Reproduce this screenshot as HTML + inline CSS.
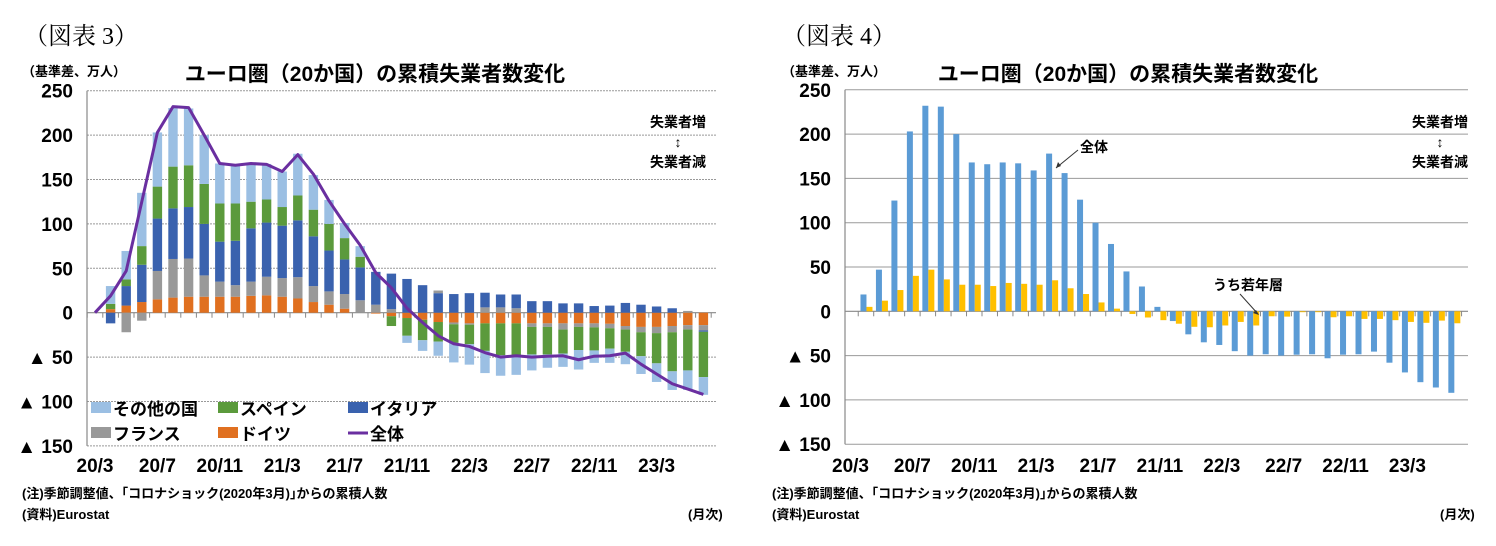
<!DOCTYPE html>
<html><head><meta charset="utf-8"><style>
html,body{margin:0;padding:0;background:#fff;}
svg{display:block;font-family:"Liberation Sans","Noto Sans CJK JP",sans-serif;}
</style></head><body>
<svg id="c" width="1496" height="546" viewBox="0 0 1496 546">
<text x="24" y="44" font-size="24" font-family="'Liberation Serif','Noto Serif CJK SC',serif">（図表 3）</text>
<text x="782" y="44" font-size="24" font-family="'Liberation Serif','Noto Serif CJK SC',serif">（図表 4）</text>
<text x="22" y="76" font-size="13" font-weight="bold">（基準差、万人）</text>
<text x="782" y="76" font-size="13" font-weight="bold">（基準差、万人）</text>
<text x="375" y="81" font-size="21" font-weight="bold" text-anchor="middle">ユーロ圏（20か国）の累積失業者数変化</text>
<text x="1128" y="81" font-size="21" font-weight="bold" text-anchor="middle">ユーロ圏（20か国）の累積失業者数変化</text>
<g font-size="14" font-weight="bold" text-anchor="middle">
<text x="678" y="127">失業者増</text>
<text x="678" y="147" font-size="14" font-weight="normal">↕</text>
<text x="678" y="167">失業者減</text>
<text x="1440" y="127">失業者増</text>
<text x="1440" y="147" font-weight="normal">↕</text>
<text x="1440" y="167">失業者減</text>
</g>
<g font-size="13" font-weight="bold">
<text x="22" y="498">(注)季節調整値、｢コロナショック(2020年3月)｣からの累積人数</text>
<text x="22" y="519">(資料)Eurostat</text>
<text x="688" y="519">(月次)</text>
<text x="772" y="498">(注)季節調整値、｢コロナショック(2020年3月)｣からの累積人数</text>
<text x="772" y="519">(資料)Eurostat</text>
<text x="1440" y="519">(月次)</text>
</g>
</svg>
<script>
const months=["20/3","20/4","20/5","20/6","20/7","20/8","20/9","20/10","20/11","20/12","21/1","21/2","21/3","21/4","21/5","21/6","21/7","21/8","21/9","21/10","21/11","21/12","22/1","22/2","22/3","22/4","22/5","22/6","22/7","22/8","22/9","22/10","22/11","22/12","23/1","23/2","23/3","23/4","23/5","23/6"];
const xTickLabels=["20/3","20/7","20/11","21/3","21/7","21/11","22/3","22/7","22/11","23/3"];
const yTicks=[250,200,150,100,50,0,-50,-100,-150];
const germany=[0,4,8,12,15,17,18,18,18,18,19,19.5,18,16,12,9,4.5,0,-1,-4,-6,-8,-10.5,-11,-12,-12,-12,-12,-12,-12,-12,-12,-12,-12.5,-15,-16,-16,-15,-14,-14];
const france=[0,0,-22,-9,32,43.5,43,24,17,13,16,21,21,24,18,15,16.5,14,9,4,0,0,0,0,0,6,6,5,-4,-4,-7,-4,-4.5,-5,-4,-6,-7,-7,-5,-6];
const france2=[0,0,0,0,0,0,0,0,0,0,0,0,0,0,0,0,0,0,0,0,0,0,3,-2,-1.5,0,0,0,0,0,0,0,0,0,0,0,0,0,2,0];
const italy=[0,-12,22,42,59,57,58,58,45,50,60,61,59,64,56,46,39,37,37,40,38,31,22,21,22,16.5,14.5,15.5,13,13,10.5,10.5,7.5,8,11,9,7,5,0,-1.5];
const spain=[0,6,7.5,21,36,47,47,45,43,42,30,26,21,28,30,30,24,12,0,-11,-20,-23,-22,-21,-22,-31,-36,-36,-31,-31,-27,-26,-26,-23,-25,-27,-34,-44,-46,-51];
const others=[0,20,32,60,61,66,64,55,45,44,43,40,40,47,39,27,17,12,0,0,-8,-12,-16,-22,-23,-25,-23,-22,-18,-15,-15,-22,-14,-16,-14,-20,-21,-21,-22,-20];
const total=[0,19,47,125,203,232,231,200,168,166,168,167,159,178,156,126,100,76,45,28,5,-11,-26,-35,-38,-45,-50,-48.5,-50,-49,-48.5,-53,-49,-48.5,-45.5,-58,-69,-80,-86,-92];
const youth=[0,5,12,24,40,47,36,30,30,28.5,32,31,30,35,26,19.5,10,3,-3,-7,-10,-14,-17.5,-18,-16,-12,-16,-5.6,-6,-1,-1,-6.7,-5.6,-8.6,-8.6,-10,-12,-13,-10.5,-13.5];

const svg=document.getElementById('c');
const NS='http://www.w3.org/2000/svg';
function mk(tag,attrs,parent){const e=document.createElementNS(NS,tag);for(const k in attrs)e.setAttribute(k,attrs[k]);(parent||svg).appendChild(e);return e;}

function axes(P,dotted,prefix){
  const g=mk('g',{});
  
  
  yTicks.forEach(v=>{
    const y=P.y(v);
    if(v!==0){const l=mk('line',{x1:P.x0,x2:P.x1,y1:y,y2:y,stroke:dotted?'#999':'#9a9a9a','stroke-width':dotted?1:1,'stroke-dasharray':dotted?'2,1':'none'},g);
      
      }
    const t=mk('text',{x:P.x0-14,y:y+7,'font-size':19,'font-weight':'bold','text-anchor':'end'},g);
    t.textContent=v<0?'▲ '+(-v):String(v);
    
    
  });
  const ya=mk('line',{x1:P.x0,x2:P.x0,y1:P.y(250),y2:P.y(-150),stroke:'#888','stroke-width':1.2},g);
  
  
  const xa=mk('line',{x1:P.x0,x2:P.x1,y1:P.y(0),y2:P.y(0),stroke:'#888','stroke-width':1.2},g);
  
  
  for(let i=0;i<=months.length;i++){const x=P.x(i)-P.step/2;if(x<P.x0)continue;
    mk('line',{x1:x,x2:x,y1:P.y(0),y2:P.y(0)+5,stroke:'#888'},g);}
  xTickLabels.forEach(lab=>{const i=months.indexOf(lab);
    const t=mk('text',{x:P.x(i),y:472,'font-size':19,'font-weight':'bold','text-anchor':'middle'},g);
    t.textContent=lab;
    
    });
}

// LEFT chart
const L={x0:87,x1:716,step:15.6,x:i=>95+15.6*i,y:v=>312.7-v*0.888};
axes(L,true,'left');
const series=[["germany",germany,"#E07020"],["france",france,"#999999"],["italy",italy,"#3A62AE"],["france-extra",france2,"#999999"],["spain",spain,"#5B9A3C"],["others",others,"#9BBFE3"]];
const pos=months.map(()=>0),neg=months.map(()=>0);
series.forEach(([name,arr,col])=>{
  arr.forEach((v,i)=>{ if(i===0||v===0)return;
    let y0,y1;
    if(v>0){y0=pos[i];y1=pos[i]+v;pos[i]=y1;}else{y0=neg[i];y1=neg[i]+v;neg[i]=y1;}
    const r=mk('rect',{x:L.x(i)-4.7,width:9.4,y:L.y(Math.max(y0,y1)),height:Math.abs(L.y(y0)-L.y(y1)),fill:col});
    
    
  });
});
const pl=mk('polyline',{points:total.map((v,i)=>L.x(i)+','+L.y(v)).join(' '),fill:'none',stroke:'#6A2FA0','stroke-width':3,'stroke-linejoin':'round'});


// legend
const leg=[["その他の国","#9BBFE3",91,408,'r'],["スペイン","#5B9A3C",218,408,'r'],["イタリア","#3A62AE",348,408,'r'],["フランス","#999999",91,433,'r'],["ドイツ","#E07020",218,433,'r'],["全体","#6A2FA0",348,433,'l']];
leg.forEach(([lab,col,x,y,t])=>{
  const g=mk('g',{});
  
  
  if(t==='r')mk('rect',{x:x,y:y-6,width:20,height:11,fill:col},g);
  else mk('line',{x1:x,x2:x+20,y1:y,y2:y,stroke:col,'stroke-width':3},g);
  const tx=mk('text',{x:x+22,y:y+7,'font-size':17,'font-weight':'bold'},g);tx.textContent=lab;
});

// RIGHT chart
const R={x0:845,x1:1468,step:15.47,x:i=>850.5+15.47*i,y:v=>311.3-v*0.886};
axes(R,false,'right');
total.forEach((v,i)=>{if(i===0)return;
  const r=mk('rect',{x:R.x(i)-5.5,width:6,y:R.y(Math.max(v,0)),height:Math.abs(R.y(v)-R.y(0)),fill:'#5B9BD5'});
  
  });
youth.forEach((v,i)=>{if(i===0)return;
  const r=mk('rect',{x:R.x(i)+0.5,width:6,y:R.y(Math.max(v,0)),height:Math.abs(R.y(v)-R.y(0)),fill:'#FFC000'});
  
  });
const a1=mk('text',{x:1080,y:152,'font-size':14,'font-weight':'bold'});a1.textContent='全体';


mk('line',{x1:1078,y1:150,x2:1056,y2:168,stroke:'#333','stroke-width':1});
mk('path',{d:'M1056 168 l2 -6 l3 4 z',fill:'#333'});
const a2=mk('text',{x:1213,y:290,'font-size':14,'font-weight':'bold'});a2.textContent='うち若年層';


mk('line',{x1:1240,y1:294,x2:1258,y2:314,stroke:'#333','stroke-width':1});
mk('path',{d:'M1259 315 l-6 -2 l3 -3 z',fill:'#333'});
</script>
</body></html>
